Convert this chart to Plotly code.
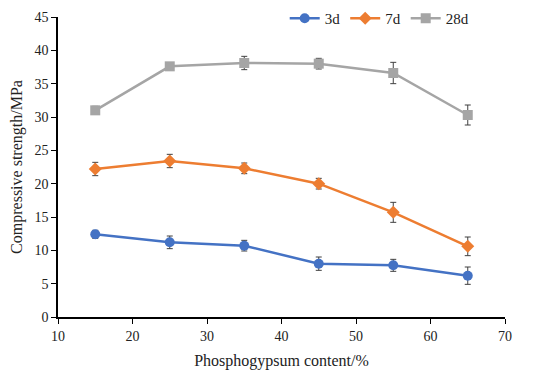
import plotly.graph_objects as go

content = [15, 25, 35, 45, 55, 65]
s3d = [12.4, 11.2, 10.7, 8.0, 7.75, 6.2]
e3d = [0.6, 0.95, 0.8, 1.0, 0.9, 1.3]
s7d = [22.2, 23.4, 22.3, 20.0, 15.7, 10.6]
e7d = [1.0, 1.0, 0.8, 0.8, 1.5, 1.4]
s28d = [31.0, 37.6, 38.1, 38.0, 36.6, 30.3]
e28d = [0.6, 0.5, 1.0, 0.8, 1.6, 1.5]

series = [
    ("3d", s3d, e3d, "#4472C4", "circle", 10),
    ("7d", s7d, e7d, "#ED7D31", "diamond", 10),
    ("28d", s28d, e28d, "#A5A5A5", "square", 10),
]

fig = go.Figure()
for name, ys, es, col, sym, sz in series:
    fig.add_trace(go.Scatter(
        x=content, y=ys, name=name, mode="lines+markers",
        line=dict(color=col, width=2.5),
        marker=dict(color=col, symbol=sym, size=sz),
        error_y=dict(type="data", array=es, visible=True, color="#404040", thickness=1, width=3),
    ))

font = "Liberation Serif"
tf = dict(family=font, size=14, color="#222")
fig.update_layout(
    width=550, height=382,
    margin=dict(l=50, r=53, t=9, b=73, autoexpand=False),
    plot_bgcolor="white", paper_bgcolor="white",
    font=dict(family=font, size=14, color="#222"),
    showlegend=True,
    legend=dict(orientation="h", x=0.93, xanchor="right", y=0.995, yanchor="middle",
                font=dict(family=font, size=15, color="#222"), bgcolor="rgba(0,0,0,0)", tracegroupgap=0),
    xaxis=dict(range=[10, 70], dtick=10, tick0=10, showgrid=False, zeroline=False,
               showline=True, linecolor="black", linewidth=1.5, ticks="outside", ticklen=5,
               tickcolor="black", tickfont=tf,
               title=dict(text="Phosphogypsum content/%", font=dict(family=font, size=16, color="#222"), standoff=12)),
    yaxis=dict(range=[0, 45], dtick=5, showgrid=False, zeroline=False,
               showline=True, linecolor="black", linewidth=1.5, ticks="outside", ticklen=5,
               tickcolor="black", tickfont=tf,
               title=dict(text="Compressive strength/MPa", font=dict(family=font, size=16, color="#222"), standoff=10)),
)

fig.write_html("out.html")
